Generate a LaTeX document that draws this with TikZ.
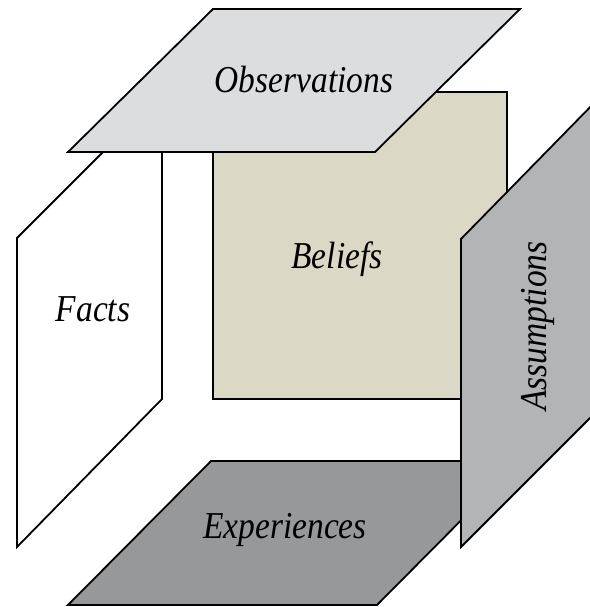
\documentclass[tikz,border=0pt]{standalone}
\usepackage{fontspec}
\newfontfamily\garafont{Liberation Serif}[FakeStretch=0.88]
\definecolor{grisclair}{HTML}{DCDDDF}
\definecolor{beige}{HTML}{DBD9C5}
\definecolor{grismoyen}{HTML}{B3B4B6}
\definecolor{grisfonce}{HTML}{97989A}
\begin{document}
\begin{tikzpicture}[x=0.5pt, y=-0.5pt]
			\tikzset{panneau/.style={draw=black, line width=0.9pt, line join=miter}, texte/.style={inner sep=0pt, font=\garafont\itshape\fontsize{19}{22}\selectfont}};

			\useasboundingbox (0,0) rectangle (590,607);
			\clip (0,0) rectangle (590,607);

			\filldraw[panneau, fill=beige]      (213, 92) -- (507, 92) -- (507,399) -- (213,399) -- cycle;
			\filldraw[panneau, fill=white]      ( 17,238) -- (162, 93) -- (162,399) -- ( 17,547) -- cycle;
			\filldraw[panneau, fill=grisclair]  (213,  9) -- (520,  9) -- (375,152) -- ( 68,152) -- cycle;
			\filldraw[panneau, fill=grisfonce]  (211,461) -- (520,461) -- (377,605) -- ( 68,605) -- cycle;
			\filldraw[panneau, fill=grismoyen]  (461,239) -- (600, 97) -- (600,408) -- (461,547) -- cycle;

			\node[texte] (obs) at (304, 80) {Observations};
			\node[texte] (bel) at (337,259) {Beliefs};
			\node[texte] (fac) at ( 93,309) {Facts};
			\node[texte] (exp) at (285,530) {Experiences};
			\node[texte, rotate=90] (ass) at (538,326) {Assumptions};

		\end{tikzpicture}
\end{document}
